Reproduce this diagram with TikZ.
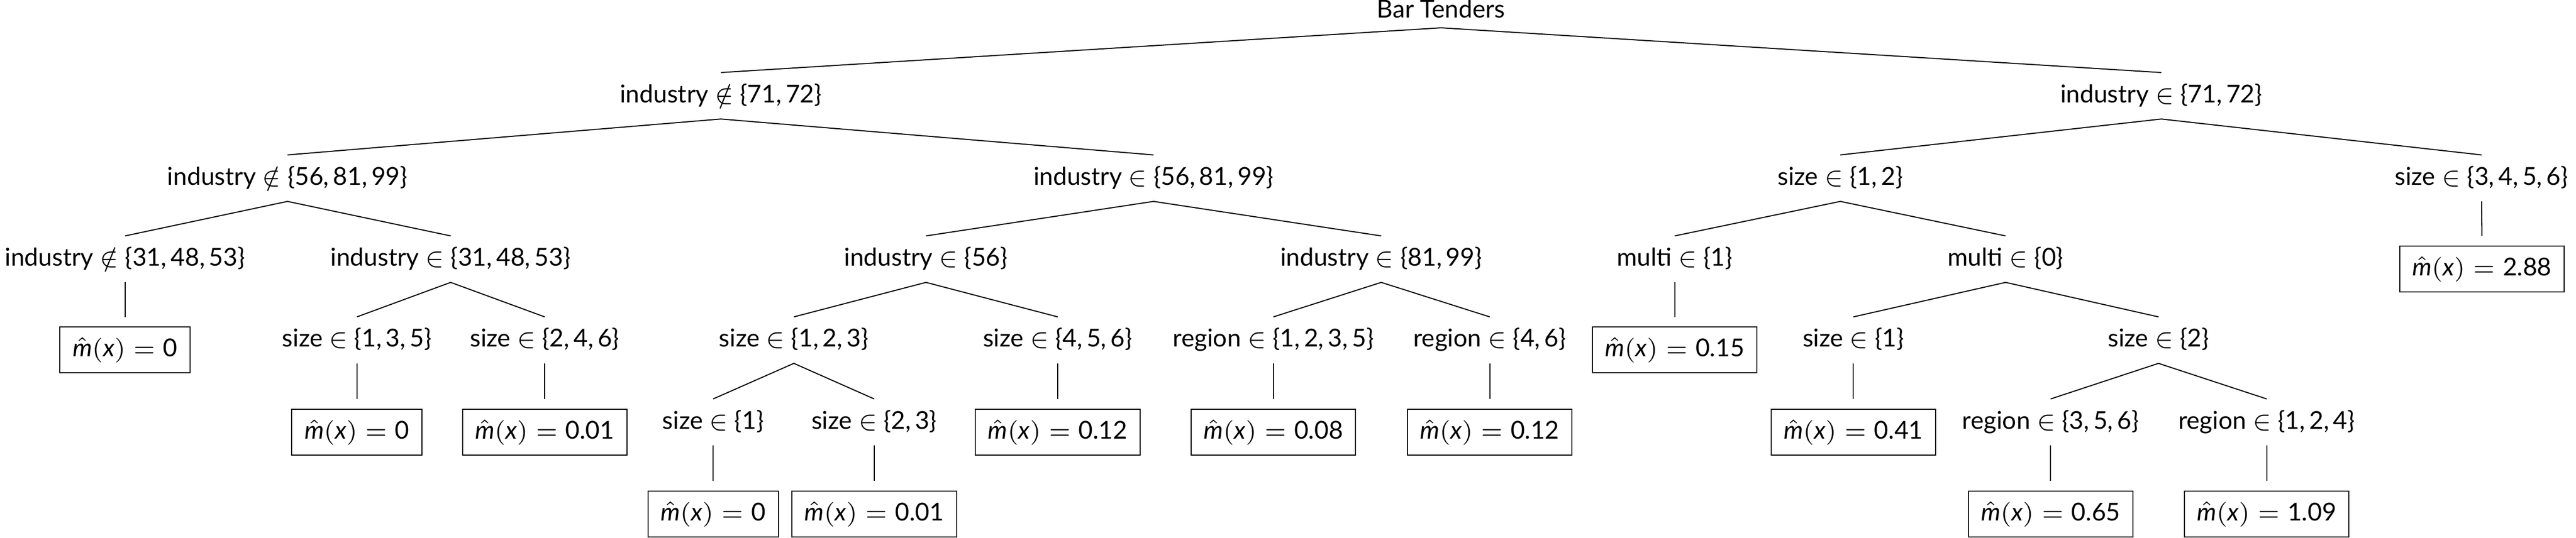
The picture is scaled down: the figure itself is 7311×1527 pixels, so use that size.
\documentclass[tikz,border=0pt]{standalone}
\usepackage{fontspec}
\setmainfont{Lato}
\newcommand\mhat[1]{$\hat{\mbox{\itshape m}}(\mbox{\itshape x}) = \mbox{#1}$}
\tikzset{
  every node/.style={font=\fontsize{7}{8.4}\selectfont, inner xsep=0pt, inner ysep=0pt,
    outer xsep=0pt, outer ysep=2.9pt, anchor=north},
  split/.style={text height=5.6pt, text depth=1.8pt},
  rootnode/.style={text height=5.0pt, text depth=0pt},
  leaf/.style={draw, line width=0.3pt, inner xsep=3.6pt, inner ysep=2.8pt,
    text height=5.6pt, text depth=1.8pt},
  edge/.style={line width=0.3pt}
}
\begin{document}
\begin{tikzpicture}[x=0.1pt, y=-0.1pt]
\useasboundingbox (0,0) rectangle (7311,1527);
% level 0
\node[rootnode] (r) at (4090,-29) {Bar Tenders};
% level 1
\node[split] (a) at (2046,206) {industry $\notin$ \{71,\,72\}};
\node[split] (b) at (6134,206) {industry $\in$ \{71,\,72\}};
% level 2
\node[split] (aa) at (816,440) {industry $\notin$ \{56,\,81,\,99\}};
\node[split] (ab) at (3274,440) {industry $\in$ \{56,\,81,\,99\}};
\node[split] (ba) at (5223,440) {size $\in$ \{1,\,2\}};
\node[split] (bb) at (7043,440) {size $\in$ \{3,\,4,\,5,\,6\}};
% level 3
\node[split] (aaa) at (355,670) {industry $\notin$ \{31,\,48,\,53\}};
\node[split] (aab) at (1279,670) {industry $\in$ \{31,\,48,\,53\}};
\node[split] (aba) at (2628,670) {industry $\in$ \{56\}};
\node[split] (abb) at (3920,670) {industry $\in$ \{81,\,99\}};
\node[split] (baa) at (4753,670) {multi $\in$ \{1\}};
\node[split] (bab) at (5692,670) {multi $\in$ \{0\}};
\node[leaf]  (bba) at (7044,670) {\mhat{2.88}};
% level 4
\node[leaf]  (aaaa) at (355,900) {\mhat{0}};
\node[split] (aaba) at (1013,900) {size $\in$ \{1,\,3,\,5\}};
\node[split] (aabb) at (1546,900) {size $\in$ \{2,\,4,\,6\}};
\node[split] (abaa) at (2253,900) {size $\in$ \{1,\,2,\,3\}};
\node[split] (abab) at (3002,900) {size $\in$ \{4,\,5,\,6\}};
\node[split] (abba) at (3614,900) {region $\in$ \{1,\,2,\,3,\,5\}};
\node[split] (abbb) at (4228,900) {region $\in$ \{4,\,6\}};
\node[leaf]  (baaa) at (4753,900) {\mhat{0.15}};
\node[split] (baba) at (5260,900) {size $\in$ \{1\}};
\node[split] (babb) at (6126,900) {size $\in$ \{2\}};
% level 5
\node[leaf]  (aabaa) at (1013,1133) {\mhat{0}};
\node[leaf]  (aabba) at (1546,1133) {\mhat{0.01}};
\node[split] (abaaa) at (2024,1133) {size $\in$ \{1\}};
\node[split] (abaab) at (2481,1133) {size $\in$ \{2,\,3\}};
\node[leaf]  (ababa) at (3002,1133) {\mhat{0.12}};
\node[leaf]  (abbaa) at (3614,1133) {\mhat{0.08}};
\node[leaf]  (abbba) at (4228,1133) {\mhat{0.12}};
\node[leaf]  (babaa) at (5260,1133) {\mhat{0.41}};
\node[split] (babba) at (5820,1133) {region $\in$ \{3,\,5,\,6\}};
\node[split] (babbb) at (6433,1133) {region $\in$ \{1,\,2,\,4\}};
% level 6
\node[leaf]  (abaaaa) at (2024,1366) {\mhat{0}};
\node[leaf]  (abaaba) at (2481,1366) {\mhat{0.01}};
\node[leaf]  (babbaa) at (5820,1366) {\mhat{0.65}};
\node[leaf]  (babbba) at (6433,1366) {\mhat{1.09}};
% edges
\foreach \p/\c in {r/a, r/b, a/aa, a/ab, b/ba, b/bb,
  aa/aaa, aa/aab, ab/aba, ab/abb, ba/baa, ba/bab, bb/bba,
  aaa/aaaa, aab/aaba, aab/aabb, aba/abaa, aba/abab, abb/abba, abb/abbb,
  baa/baaa, bab/baba, bab/babb,
  aaba/aabaa, aabb/aabba, abaa/abaaa, abaa/abaab, abab/ababa, abba/abbaa,
  abbb/abbba, baba/babaa, babb/babba, babb/babbb,
  abaaa/abaaaa, abaab/abaaba, babba/babbaa, babbb/babbba}
  \draw[edge] (\p.south) -- (\c.north);
\end{tikzpicture}
\end{document}
